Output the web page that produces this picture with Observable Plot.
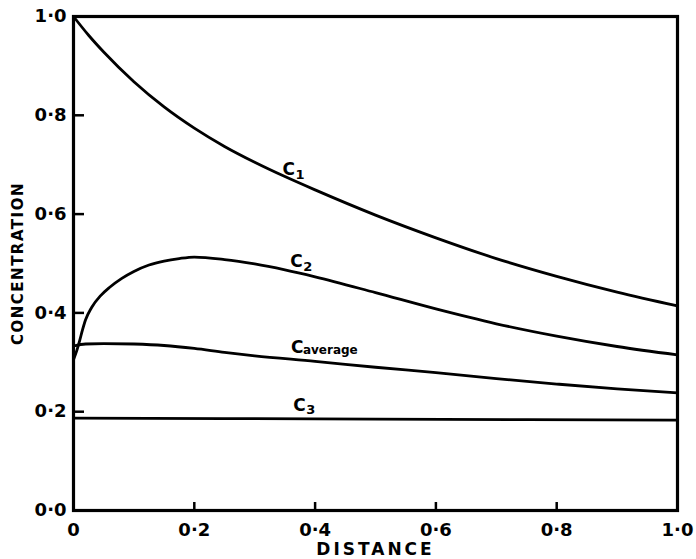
<!DOCTYPE html>
<html><head><meta charset="utf-8">
<script src="https://cdn.jsdelivr.net/npm/d3@7"></script>
<script src="https://cdn.jsdelivr.net/npm/@observablehq/plot@0.6"></script>
<style>
body{margin:0;background:#fff;}
#chart svg{display:block;}
</style></head><body><div id="chart"></div>
<script>
// Series data (distance, concentration)
const c1Distance = [0, 0.025, 0.05, 0.1, 0.15, 0.2, 0.25, 0.3, 0.35, 0.4, 0.5, 0.6, 0.7, 0.8, 0.9, 1.0];
const c1Conc     = [1.000, 0.962, 0.928, 0.868, 0.817, 0.774, 0.737, 0.705, 0.676, 0.649, 0.598, 0.552, 0.510, 0.474, 0.442, 0.414];

const c2Distance = [0, 0.005, 0.01, 0.015, 0.02, 0.03, 0.045, 0.06, 0.08, 0.1, 0.125, 0.15, 0.175, 0.2, 0.25, 0.3, 0.35, 0.4, 0.5, 0.6, 0.7, 0.8, 0.9, 1.0];
const c2Conc     = [0.305, 0.322, 0.343, 0.366, 0.386, 0.411, 0.435, 0.452, 0.470, 0.484, 0.497, 0.505, 0.510, 0.513, 0.508, 0.499, 0.487, 0.473, 0.441, 0.408, 0.378, 0.353, 0.332, 0.315];

const cavgDistance = [0, 0.02, 0.05, 0.1, 0.15, 0.2, 0.25, 0.3, 0.4, 0.5, 0.6, 0.7, 0.8, 0.9, 1.0];
const cavgConc     = [0.333, 0.337, 0.338, 0.337, 0.334, 0.328, 0.320, 0.313, 0.302, 0.290, 0.279, 0.267, 0.256, 0.246, 0.238];

const c3Distance = [0, 0.5, 1.0];
const c3Conc     = [0.187, 0.185, 0.183];

// Curve labels
const labelMain = ["C", "C", "C", "C"];
const labelSub  = ["1", "2", "average", "3"];
const labelDist = [0.346, 0.359, 0.360, 0.364];
const labelConc = [0.690, 0.503, 0.330, 0.213];

// Tick values and axis titles
const xTicks = [0, 0.2, 0.4, 0.6, 0.8, 1.0];
const yTicks = [0, 0.2, 0.4, 0.6, 0.8, 1.0];
const xTitle = "DISTANCE";
const yTitle = "CONCENTRATION";

const toRows = (name, xs, ys) => xs.map((x, i) => ({series: name, x, y: ys[i]}));
const rows = [
  ...toRows("C1", c1Distance, c1Conc),
  ...toRows("C2", c2Distance, c2Conc),
  ...toRows("Cavg", cavgDistance, cavgConc),
  ...toRows("C3", c3Distance, c3Conc)
];
const labels = labelMain.map((m, i) => ({m, s: labelSub[i], x: labelDist[i], y: labelConc[i]}));

const W = 696, H = 559;
const mL = 73, mR = 19, mT = 16, mB = 49;
const plotW = W - mL - mR, plotH = H - mT - mB;
const fmt = d => d.toFixed(1).replace(".", "\u00B7");

const chart = Plot.plot({
  width: W, height: H,
  marginLeft: mL, marginRight: mR, marginTop: mT, marginBottom: mB,
  style: {fontFamily: "DejaVu Sans", fontWeight: "bold", fontSize: "18px", color: "#000", background: "#fff"},
  x: {domain: [0, 1], ticks: xTicks},
  y: {domain: [0, 1], ticks: yTicks},
  marks: [
    Plot.axisX(xTicks, {tickSize: 0, tickPadding: 13, tickFormat: d => d === 0 ? "0" : fmt(d), label: null, fontSize: 18}),
    Plot.axisY(yTicks, {tickSize: 0, tickPadding: 7, tickFormat: fmt, label: null, fontSize: 18}),
    Plot.text([xTitle], {frameAnchor: "bottom", dy: 44, text: d => d, fontSize: 17, fontWeight: "bold"}),
    Plot.text([yTitle], {frameAnchor: "left", textAnchor: "middle", dx: -55, rotate: -90, text: d => d, fontSize: 15, fontWeight: "bold"}),
    Plot.ruleX(xTicks.slice(1, -1), {x: d => d, insetTop: plotH - 8, strokeWidth: 2.5}),
    Plot.ruleY(yTicks.slice(1, -1), {y: d => d, insetRight: plotW - 11, strokeWidth: 2.5}),
    Plot.line(rows, {x: "x", y: "y", z: "series", curve: "monotone-x", stroke: "#000", strokeWidth: 2.8}),
    Plot.frame({stroke: "#000", strokeWidth: 3.2}),
    Plot.text(labels, {x: "x", y: "y", text: "m", textAnchor: "start", fontSize: 17, fontWeight: "bold"}),
    Plot.text(labels.filter(d => d.s.length === 1), {x: "x", y: "y", text: "s", textAnchor: "start", dx: 13, dy: 5, fontSize: 13, fontWeight: "bold"}),
    Plot.text(labels.filter(d => d.s.length > 1), {x: "x", y: "y", text: "s", textAnchor: "start", dx: 12, dy: 3, fontSize: 12, fontWeight: "bold"})
  ]
});
document.getElementById("chart").appendChild(chart);
chart.querySelectorAll("text").forEach(t => {
  if (t.textContent === xTitle) t.setAttribute("letter-spacing", "3");
  if (t.textContent === yTitle) t.setAttribute("letter-spacing", "1.5");
});
</script>
</body></html>
